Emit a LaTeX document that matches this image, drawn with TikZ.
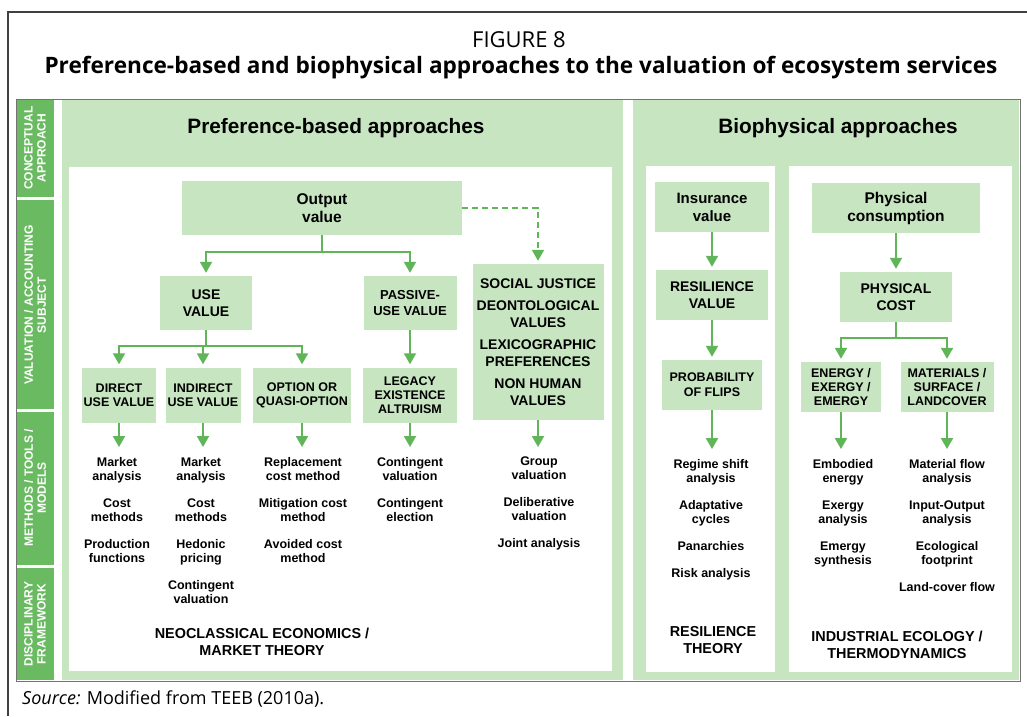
\documentclass[tikz,border=0pt]{standalone}
\usepackage{fontspec}
\setmainfont{Liberation Sans}
\newfontfamily\headfont{Open Sans}
\usetikzlibrary{arrows.meta}

\definecolor{lgreen}{RGB}{198,229,192}
\definecolor{dgreen}{RGB}{106,186,98}
\definecolor{agreen}{RGB}{96,181,88}

\begin{document}
\begin{tikzpicture}
	[x=1pt, y=-1pt,
	vbox/.style={fill=lgreen, align=center, inner sep=0pt,
		font=\bfseries\fontsize{12.5}{14}\selectfont},
	flow/.style={draw=agreen, line width=2pt,
		-{Triangle[width=12pt,length=11pt]}, shorten >=3pt},
	meth/.style={align=center, inner sep=0pt, anchor=north,
		font=\bfseries\fontsize{12.5}{14}\selectfont},
	bot/.style={align=center, inner sep=0pt,
		font=\bfseries\fontsize{14.4}{17}\selectfont},
	side/.style={align=center, text=white, rotate=90, inner sep=0pt,
		font=\bfseries\fontsize{12}{13}\selectfont}]
	
	\useasboundingbox (0,0) rectangle (1027,716);
	\fill[white] (0,0) rectangle (1027,716);
	\draw[black!75, line width=1.2pt] (8,716) -- (8,12) -- (1027,12);
	
	\node[font=\headfont\fontsize{22}{26}\selectfont] (fig) at (519,40) {FIGURE 8};
	\node[font=\headfont\bfseries\fontsize{22.6}{26}\selectfont] (title) at (521,68)
		{Preference-based and biophysical approaches to the valuation of ecosystem services};
	\node[anchor=base west, inner sep=0pt, font=\headfont\fontsize{18}{21}\selectfont] (src) at (22,704)
		{\textit{Source:} Modified from TEEB (2010a).};
	
	% frame and panels
	\draw[black!55, line width=0.8pt] (16,99) rectangle (1020,681);
	\fill[dgreen] (17,100) rectangle (54,197);
	\fill[dgreen] (17,200) rectangle (54,409);
	\fill[dgreen] (17,412) rectangle (54,565);
	\fill[dgreen] (17,568) rectangle (54,680);
	\fill[lgreen] (62,100) rectangle (623,680);
	\fill[white] (69,167) rectangle (612,671);
	\fill[lgreen] (633,100) rectangle (1019,680);
	\fill[white] (646,166) rectangle (775,672);
	\fill[white] (789,166) rectangle (1012,672);
	
	\node[side] (sconc) at (35,148) {CONCEPTUAL\\APPROACH};
	\node[side] (sval) at (35,305) {VALUATION / ACCOUNTING\\SUBJECT};
	\node[side] (smeth) at (35,488) {METHODS / TOOLS /\\MODELS};
	\node[side] (sdisc) at (35,624) {DISCIPLINARY\\FRAMEWORK};
	
	\node[font=\bfseries\fontsize{20.8}{24}\selectfont] (pref) at (336,128) {Preference-based approaches};
	\node[font=\bfseries\fontsize{20.8}{24}\selectfont] (bio) at (838,128) {Biophysical approaches};
	
	% preference-based
	\node[vbox, font=\bfseries\fontsize{15.5}{18}\selectfont, minimum width=280pt, minimum height=54pt] (output) at (322,208) {Output\\value};
	\node[vbox, font=\bfseries\fontsize{14}{17}\selectfont, minimum width=92pt, minimum height=54pt] (usev) at (206,303) {USE\\VALUE};
	\node[vbox, font=\bfseries\fontsize{13}{16}\selectfont, minimum width=93pt, minimum height=54pt] (passv) at (410,303) {PASSIVE-\\USE VALUE};
	\node[vbox, font=\bfseries\fontsize{14}{17}\selectfont, minimum width=131pt, minimum height=156pt] (social) at (538,342)
		{SOCIAL JUSTICE\\[5pt]DEONTOLOGICAL\\VALUES\\[5pt]LEXICOGRAPHIC\\PREFERENCES\\[5pt]NON HUMAN\\VALUES};
	\node[vbox, minimum width=74pt, minimum height=55pt] (direct) at (119,395) {DIRECT\\USE VALUE};
	\node[vbox, minimum width=75pt, minimum height=55pt] (indirect) at (203,395) {INDIRECT\\USE VALUE};
	\node[vbox, minimum width=98pt, minimum height=55pt] (option) at (302,395) {OPTION OR\\QUASI-OPTION};
	\node[vbox, minimum width=94pt, minimum height=55pt] (legacy) at (410,395) {LEGACY\\EXISTENCE\\ALTRUISM};
	
	\draw[flow] (output.south) -- ++(0,17) -| (usev.north);
	\draw[flow] (output.south) -- ++(0,17) -| (passv.north);
	\draw[flow, dash pattern=on 6pt off 4pt] (output.east) -| (social.north);
	\draw[flow] (usev.south) -- ++(0,16) -| (direct.north);
	\draw[flow] (usev.south) -- ++(0,16) -| (indirect.north);
	\draw[flow] (usev.south) -- ++(0,16) -| (option.north);
	\draw[flow] (passv.south) -- (legacy.north);
	
	\node[meth] (mdirect) at (117,457) {Market\\analysis\\[13pt]Cost\\methods\\[13pt]Production\\functions};
	\node[meth] (mindirect) at (201,457) {Market\\analysis\\[13pt]Cost\\methods\\[13pt]Hedonic\\pricing\\[13pt]Contingent\\valuation};
	\node[meth] (moption) at (303,457) {Replacement\\cost method\\[13pt]Mitigation cost\\method\\[13pt]Avoided cost\\method};
	\node[meth] (mlegacy) at (410,457) {Contingent\\valuation\\[13pt]Contingent\\election};
	\node[meth] (msocial) at (539,457) {Group\\valuation\\[13pt]Deliberative\\valuation\\[13pt]Joint analysis};
	
	\draw[flow, shorten >=10pt] (direct.south) -- (direct.south |- mdirect.north);
	\draw[flow, shorten >=10pt] (indirect.south) -- (indirect.south |- mindirect.north);
	\draw[flow, shorten >=10pt] (option.south) -- (option.south |- moption.north);
	\draw[flow, shorten >=10pt] (legacy.south) -- (legacy.south |- mlegacy.north);
	\draw[flow, shorten >=10pt] (social.south) -- (social.south |- msocial.north);
	
	\node[bot] (neo) at (262,642) {NEOCLASSICAL ECONOMICS /\\MARKET THEORY};
	
	% biophysical
	\node[vbox, font=\bfseries\fontsize{15}{18}\selectfont, minimum width=114pt, minimum height=50pt] (insur) at (712,207) {Insurance\\value};
	\node[vbox, font=\bfseries\fontsize{14}{17}\selectfont, minimum width=112pt, minimum height=50pt] (resil) at (712,295) {RESILIENCE\\VALUE};
	\node[vbox, font=\bfseries\fontsize{12.5}{15}\selectfont, minimum width=100pt, minimum height=50pt] (prob) at (712,385) {PROBABILITY\\OF FLIPS};
	\node[vbox, font=\bfseries\fontsize{15.5}{18}\selectfont, minimum width=168pt, minimum height=50pt] (physcons) at (896,208) {Physical\\consumption};
	\node[vbox, font=\bfseries\fontsize{14}{17}\selectfont, minimum width=112pt, minimum height=50pt] (physcost) at (896,297) {PHYSICAL\\COST};
	\node[vbox, font=\bfseries\fontsize{12.5}{14}\selectfont, minimum width=80pt, minimum height=50pt] (energy) at (841,387) {ENERGY /\\EXERGY /\\EMERGY};
	\node[vbox, font=\bfseries\fontsize{12.5}{14}\selectfont, minimum width=93pt, minimum height=50pt] (mater) at (947,387) {MATERIALS /\\SURFACE /\\LANDCOVER};
	
	\draw[flow] (insur.south) -- (resil.north);
	\draw[flow] (resil.south) -- (prob.north);
	\draw[flow] (physcons.south) -- (physcost.north);
	\draw[flow] (physcost.south) -- ++(0,16) -| (energy.north);
	\draw[flow] (physcost.south) -- ++(0,16) -| (mater.north);
	
	\node[meth] (mresil) at (711,459) {Regime shift\\analysis\\[13pt]Adaptative\\cycles\\[13pt]Panarchies\\[13pt]Risk analysis};
	\node[meth] (menergy) at (843,459) {Embodied\\energy\\[13pt]Exergy\\analysis\\[13pt]Emergy\\synthesis};
	\node[meth] (mmater) at (947,459) {Material flow\\analysis\\[13pt]Input-Output\\analysis\\[13pt]Ecological\\footprint\\[13pt]Land-cover flow};
	
	\draw[flow, shorten >=10pt] (prob.south) -- (prob.south |- mresil.north);
	\draw[flow, shorten >=10pt] (energy.south) -- (energy.south |- menergy.north);
	\draw[flow, shorten >=10pt] (mater.south) -- (mater.south |- mmater.north);
	
	\node[bot] (resth) at (713,640) {RESILIENCE\\THEORY};
	\node[bot] (indeco) at (897,645) {INDUSTRIAL ECOLOGY /\\THERMODYNAMICS};
\end{tikzpicture}
\end{document}
